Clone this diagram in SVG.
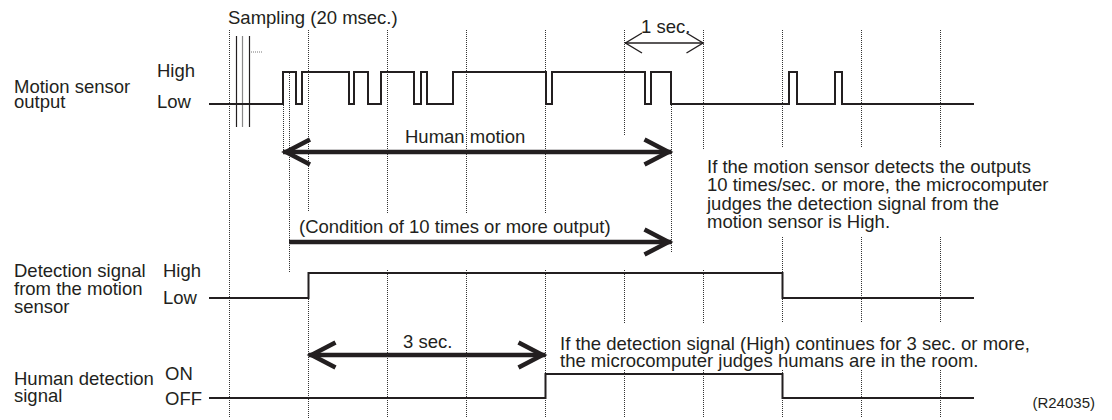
<svg xmlns="http://www.w3.org/2000/svg" width="1112" height="420" viewBox="0 0 1112 420">
<style>
.t{font-family:"Liberation Sans",Arial,Helvetica,sans-serif;font-size:18.5px;fill:#231f20}
.s{font-size:15px}
.grid{stroke:#333;stroke-width:1;stroke-dasharray:1 1;fill:none}
.sig{stroke:#231f20;stroke-width:2;fill:none;stroke-linejoin:miter}
.thick{stroke:#231f20;stroke-width:4.5;fill:none}
.thin{stroke:#231f20;stroke-width:1.4;fill:none}
.samp{stroke:#231f20;stroke-width:1.2}
</style>
<defs>
<marker id="headThick" viewBox="-30 -15 32 30" refX="0" refY="0" markerWidth="32" markerHeight="30" markerUnits="userSpaceOnUse" orient="auto-start-reverse" overflow="visible">
<path d="M -27 -12.5 L -3 0 L -27 12.5" fill="none" stroke="#231f20" stroke-width="4.5"/>
</marker>
<marker id="headThin" viewBox="-20 -12 22 24" refX="0" refY="0" markerWidth="22" markerHeight="24" markerUnits="userSpaceOnUse" orient="auto-start-reverse" overflow="visible">
<path d="M -17 -10 L -0.5 0 L -17 10" fill="none" stroke="#231f20" stroke-width="1.4"/>
</marker>
</defs>
<rect width="1112" height="420" fill="#fff"/>

<g id="grid">
<line class="grid" x1="229.5" y1="30" x2="229.5" y2="418"/>
<line class="grid" x1="308.5" y1="30" x2="308.5" y2="212"/>
<line class="grid" x1="308.5" y1="273" x2="308.5" y2="418"/>
<line class="grid" x1="387.5" y1="30" x2="387.5" y2="213"/>
<line class="grid" x1="387.5" y1="270" x2="387.5" y2="418"/>
<line class="grid" x1="466.5" y1="30" x2="466.5" y2="213"/>
<line class="grid" x1="466.5" y1="270" x2="466.5" y2="418"/>
<line class="grid" x1="545.5" y1="30" x2="545.5" y2="213"/>
<line class="grid" x1="545.5" y1="270" x2="545.5" y2="418"/>
<line class="grid" x1="624.5" y1="30" x2="624.5" y2="135"/>
<line class="grid" x1="624.5" y1="270" x2="624.5" y2="323"/>
<line class="grid" x1="624.5" y1="370" x2="624.5" y2="418"/>
<line class="grid" x1="703.5" y1="30" x2="703.5" y2="150"/>
<line class="grid" x1="703.5" y1="270" x2="703.5" y2="323"/>
<line class="grid" x1="703.5" y1="370" x2="703.5" y2="418"/>
<line class="grid" x1="782.5" y1="30" x2="782.5" y2="148"/>
<line class="grid" x1="782.5" y1="237" x2="782.5" y2="323"/>
<line class="grid" x1="782.5" y1="370" x2="782.5" y2="418"/>
<line class="grid" x1="861.5" y1="30" x2="861.5" y2="148"/>
<line class="grid" x1="861.5" y1="237" x2="861.5" y2="323"/>
<line class="grid" x1="861.5" y1="370" x2="861.5" y2="418"/>
<line class="grid" x1="940.5" y1="30" x2="940.5" y2="148"/>
<line class="grid" x1="940.5" y1="237" x2="940.5" y2="323"/>
<line class="grid" x1="940.5" y1="370" x2="940.5" y2="418"/>
<line class="grid" x1="283.5" y1="105" x2="283.5" y2="150"/>
<line class="grid" x1="289.5" y1="73" x2="289.5" y2="272"/>
<line class="grid" x1="671.5" y1="105" x2="671.5" y2="253"/>
</g>

<g id="sampling">
<line class="samp" x1="236.5" y1="36" x2="236.5" y2="127"/>
<line class="samp" x1="242.5" y1="36" x2="242.5" y2="127" stroke="#888" style="stroke:#888"/>
<line class="samp" x1="249.5" y1="36" x2="249.5" y2="127"/>
<line class="grid" x1="251" y1="52" x2="263" y2="52" style="stroke:#777"/>
<text class="t" x="228" y="24">Sampling (20 msec.)</text>
</g>

<g id="motion-sensor-output">
<text class="t" x="14" y="93">Motion sensor</text>
<text class="t" x="14" y="108">output</text>
<text class="t" x="157" y="77">High</text>
<text class="t" x="157" y="108">Low</text>
<path class="sig" d="M 209 104 H 283 V 72 H 296 V 104 H 302 V 72 H 349 V 104 H 354 V 72 H 368 V 104 H 381 V 72 H 414 V 104 H 421 V 72 H 427 V 104 H 453 V 72 H 546 V 104 H 552 V 72 H 645 V 104 H 651 V 72 H 671 V 104 H 789 V 72 H 797 V 104 H 835 V 72 H 842 V 104 H 974"/>
</g>

<g id="detection-signal">
<text class="t" x="14" y="277">Detection signal</text>
<text class="t" x="14" y="295">from the motion</text>
<text class="t" x="14" y="313">sensor</text>
<text class="t" x="163" y="277">High</text>
<text class="t" x="163" y="304">Low</text>
<path class="sig" d="M 209 298 H 308.5 V 273 H 782.5 V 298 H 974"/>
</g>

<g id="human-detection-signal">
<text class="t" x="14" y="385">Human detection</text>
<text class="t" x="14" y="402">signal</text>
<text class="t" x="165" y="380">ON</text>
<text class="t" x="165" y="405">OFF</text>
<path class="sig" d="M 209 398 H 545.5 V 374 H 782.5 V 398 H 974"/>
</g>

<g id="connectors">
<line class="thin" x1="625" y1="43" x2="703.5" y2="43" marker-start="url(#headThin)" marker-end="url(#headThin)"/>
<line class="thick" x1="283" y1="152" x2="671.5" y2="152" marker-start="url(#headThick)" marker-end="url(#headThick)"/>
<line class="thick" x1="289" y1="242" x2="671.5" y2="242" marker-end="url(#headThick)"/>
<line class="thick" x1="308.5" y1="355" x2="545.5" y2="355" marker-start="url(#headThick)" marker-end="url(#headThick)"/>
</g>

<g id="annotations">
<text class="t" x="641" y="33">1 sec.</text>
<text class="t" x="405" y="143">Human motion</text>
<text class="t" x="299" y="233">(Condition of 10 times or more output)</text>
<text class="t" x="403" y="348">3 sec.</text>
<text class="t" x="707" y="173">If the motion sensor detects the outputs</text>
<text class="t" x="707" y="191.3">10 times/sec. or more, the microcomputer</text>
<text class="t" x="707" y="209.6">judges the detection signal from the</text>
<text class="t" x="707" y="228">motion sensor is High.</text>
<text class="t" x="560" y="350">If the detection signal (High) continues for 3 sec. or more,</text>
<text class="t" x="560" y="367">the microcomputer judges humans are in the room.</text>
<text class="t s" x="1095" y="408" text-anchor="end">(R24035)</text>
</g>
</svg>
